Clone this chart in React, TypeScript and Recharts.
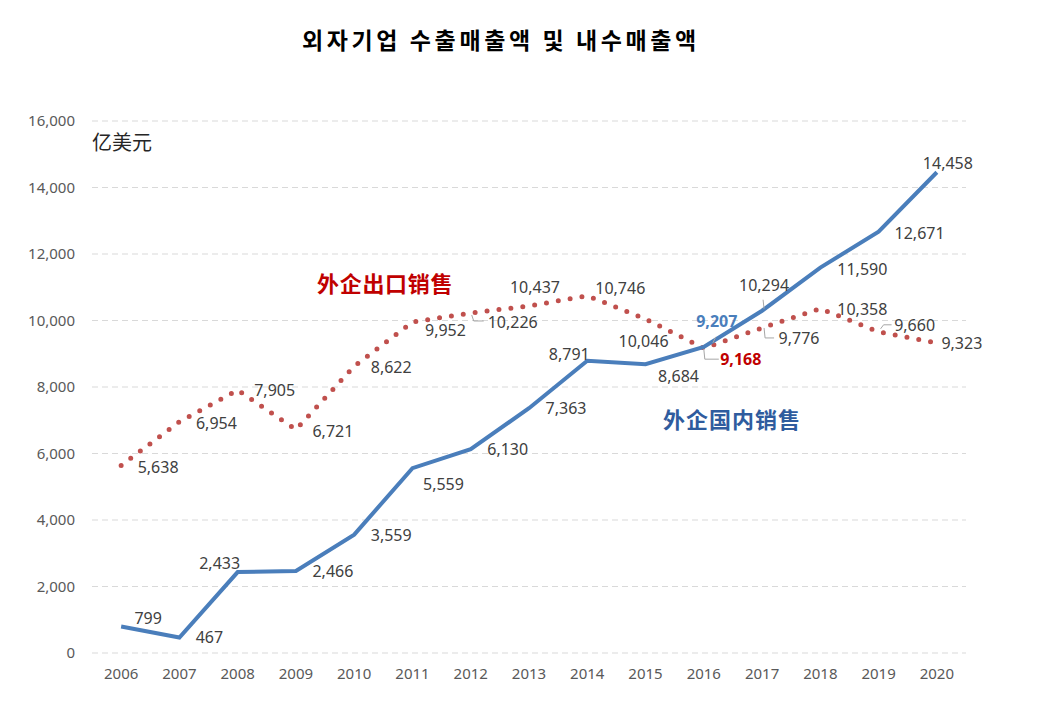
import React from 'react';
import { LineChart, Line, XAxis, YAxis, CartesianGrid } from 'recharts';

const years = [2006, 2007, 2008, 2009, 2010, 2011, 2012, 2013, 2014, 2015, 2016, 2017, 2018, 2019, 2020];
const exportSales = [5638, 6954, 7905, 6721, 8622, 9952, 10226, 10437, 10746, 10046, 9168, 9776, 10358, 9660, 9323];
const domesticSales = [799, 467, 2433, 2466, 3559, 5559, 6130, 7363, 8791, 8684, 9207, 10294, 11590, 12671, 14458];
const yTicks = [0, 2000, 4000, 6000, 8000, 10000, 12000, 14000, 16000];
const bandEdges = [2005.5, 2006.5, 2007.5, 2008.5, 2009.5, 2010.5, 2011.5, 2012.5, 2013.5, 2014.5, 2015.5, 2016.5, 2017.5, 2018.5, 2019.5, 2020.5];

const titleText = '외자기업 수출매출액 및 내수매출액';
const unitText = '亿美元';
const exportName = '外企出口销售';
const domesticName = '外企国内销售';

// label placement (style), offsets from point in px
const domOffsets: [number, number][] = [
  [27, -8], [30, 0], [-18, -9], [37, 0], [37, 0], [31, 16], [37, 0], [37, 0],
  [-18, -7], [33, 12], [13, -26], [2, -26], [42, 1], [41, 1], [11, -9],
];
const expOffsets: [number, number][] = [
  [37, 1], [37, 1], [37, 0], [37, 1], [37, 1], [33, 8], [42, 9], [6, -19],
  [33, -8], [-2, 22], [37, 11], [37, 10], [42, 0], [36, -7], [25, 0],
];
const domLeaders: Record<number, [number, number][]> = {
  10: [[9, -4], [12, -10]],
  11: [[1, -11], [2, -2]],
};
const expLeaders: Record<number, [number, number][]> = {
  6: [[1, 2], [3, 8], [13, 8]],
  10: [[0, 1], [1, 11], [15, 11]],
  11: [[2, 0], [3, 10], [12, 10]],
  13: [[2, -3], [5, -7], [13, -7]],
};

const data = years.map((year, i) => ({ year, exp: exportSales[i], dom: domesticSales[i] }));

const FONT = '"Noto Sans", "DejaVu Sans", sans-serif';
const CJK_KR = '"Noto Sans CJK KR", sans-serif';
const CJK_SC = '"Noto Sans CJK SC", sans-serif';

function makeLabel(
  offsets: [number, number][],
  leaders: Record<number, [number, number][]>,
  highlightIndex: number,
  highlightColor: string
) {
  return (props: any) => {
    const { x, y, index, value } = props;
    if (x == null || y == null) return null;
    const [dx, dy] = offsets[index] || [0, -12];
    const leader = leaders[index];
    const hl = index === highlightIndex;
    return (
      <g key={`lbl-${index}`}>
        {leader && (
          <polyline
            points={leader.map(([a, b]) => `${x + a},${y + b}`).join(' ')}
            fill="none"
            stroke="#a6a6a6"
            strokeWidth={1}
          />
        )}
        <text
          x={x + dx}
          y={y + dy}
          textAnchor="middle"
          dominantBaseline="central"
          fontFamily={FONT}
          fontSize={16}
          fontWeight={hl ? 700 : 400}
          fill={hl ? highlightColor : '#404040'}
        >
          {Number(value).toLocaleString('en-US')}
        </text>
      </g>
    );
  };
}

export default function App() {
  return (
    <div style={{ position: 'relative', width: 1036, height: 700, background: '#fff' }}>
      <div
        style={{
          position: 'absolute', left: 294, top: 20, fontFamily: CJK_KR, fontWeight: 700,
          fontSize: 23, lineHeight: '23px', letterSpacing: 3.6, color: '#000', whiteSpace: 'nowrap',
        }}
      >
        {titleText}
      </div>
      <LineChart width={1036} height={700} data={data} margin={{ top: 113, right: 78, left: 24, bottom: 25 }}>
        <CartesianGrid xAxisId="years" yAxisId="v" vertical={false} stroke="#d9d9d9" strokeDasharray="6 4" />
        <XAxis
          xAxisId="edges"
          dataKey="year"
          type="number"
          domain={[2005.5, 2020.5]}
          ticks={bandEdges}
          tickFormatter={() => ''}
          height={0}
          tickSize={6}
          tickLine={{ stroke: '#d9d9d9' }}
          axisLine={{ stroke: '#d9d9d9' }}
          allowDataOverflow
        />
        <XAxis
          xAxisId="years"
          dataKey="year"
          type="number"
          domain={[2005.5, 2020.5]}
          ticks={years}
          height={30}
          tickSize={6}
          tickMargin={9}
          tickLine={false}
          axisLine={false}
          tick={{ fill: '#595959', fontSize: 15, fontFamily: FONT }}
          allowDataOverflow
        />
        <YAxis
          yAxisId="v"
          domain={[0, 16000]}
          ticks={yTicks}
          width={60}
          tickSize={6}
          tickMargin={11}
          tickLine={false}
          axisLine={false}
          tickFormatter={(v: number) => v.toLocaleString('en-US')}
          tick={{ fill: '#595959', fontSize: 15, fontFamily: FONT }}
        />
        <Line
          xAxisId="years"
          yAxisId="v"
          type="linear"
          dataKey="exp"
          stroke="#c0504d"
          strokeWidth={5}
          strokeDasharray="0 12"
          strokeLinecap="round"
          dot={false}
          activeDot={false}
          isAnimationActive={false}
          label={makeLabel(expOffsets, expLeaders, 10, '#c00000')}
        />
        <Line
          xAxisId="years"
          yAxisId="v"
          type="linear"
          dataKey="dom"
          stroke="#4a7ebb"
          strokeWidth={4}
          dot={false}
          activeDot={false}
          isAnimationActive={false}
          label={makeLabel(domOffsets, domLeaders, 10, '#4a7ebb')}
        />
      </LineChart>
      <div
        style={{
          position: 'absolute', left: 84, top: 124, fontFamily: CJK_SC, fontSize: 20,
          lineHeight: '20px', color: '#262626', whiteSpace: 'nowrap',
        }}
      >
        {unitText}
      </div>
      <div
        style={{
          position: 'absolute', left: 309, top: 263, fontFamily: CJK_SC, fontWeight: 700, fontSize: 22,
          lineHeight: '22px', letterSpacing: 0.7, color: '#c00000', whiteSpace: 'nowrap',
        }}
      >
        {exportName}
      </div>
      <div
        style={{
          position: 'absolute', left: 655, top: 399, fontFamily: CJK_SC, fontWeight: 700, fontSize: 22,
          lineHeight: '22px', letterSpacing: 1, color: '#2f5c9e', whiteSpace: 'nowrap',
        }}
      >
        {domesticName}
      </div>
    </div>
  );
}
